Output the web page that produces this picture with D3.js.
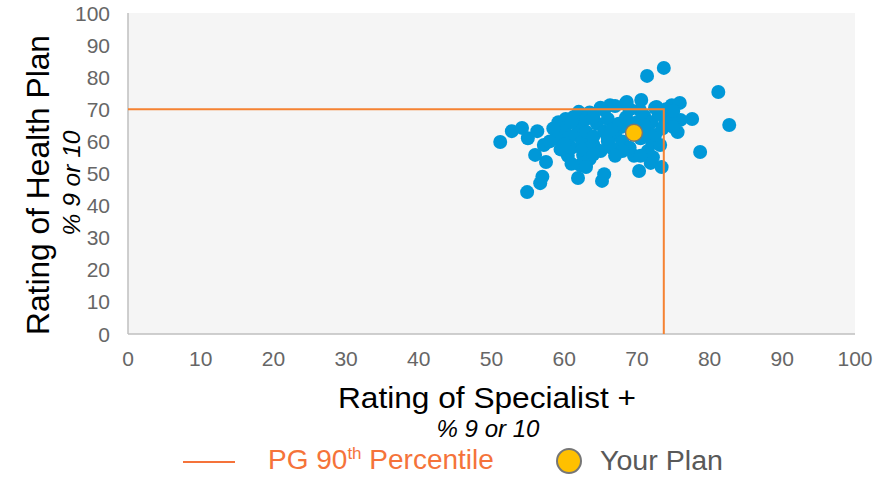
<!DOCTYPE html>
<html>
<head>
<meta charset="utf-8">
<script src="https://cdn.jsdelivr.net/npm/d3@7"></script>
<style>
  body { margin: 0; background: #fff; }
  svg text { font-family: "Liberation Sans", Arial, sans-serif; }
</style>
</head>
<body>
<svg width="887" height="479"></svg>
<script>
// peer plans: rating of specialist (x) vs rating of health plan (y)
var peerX = [51.2, 52.8, 54.2, 55.0, 56.3, 54.9, 56.7, 57.0, 57.5, 56.0, 57.2, 59.0, 59.2, 60.2, 61.3, 62.0,
  61.9, 62.2, 60.5, 62.6, 65.2, 65.5, 66.3, 65.5, 68.4, 70.4, 70.6, 71.4, 73.7, 67.8, 69.6, 70.3, 71.9, 72.2,
  73.4, 72.1, 73.2, 76.0, 75.6, 77.6, 81.2, 82.7, 78.7, 74.8, 75.9, 74.6, 73.9,
  60, 60.5, 61, 61.5, 62, 62.5, 62.5, 63, 63, 63.5, 64, 64, 64.5, 65, 65.5, 66, 66, 66.5, 67, 67.5, 68, 68.5,
  69, 69, 70, 70.5, 71, 71.5, 72, 72.5, 73, 73.5, 74, 75, 75, 61, 63, 64, 68, 67, 66, 59, 58.5, 63.5, 65, 67,
  69, 71.5, 70.5, 59.5, 58, 60, 66.5, 64, 72.5, 71, 61, 68.6, 72.7];
var peerY = [59.8, 63.2, 64.2, 61.0, 63.2, 44.2, 47.0, 49.0, 53.6, 55.8, 58.9, 62.6, 66.0, 67.0, 67.6, 69.2,
  48.6, 52.6, 55.5, 55.8, 47.7, 49.8, 71.3, 69.8, 71.7, 69.8, 72.9, 80.4, 82.9, 64.5, 55.5, 50.8, 53.3, 55.1,
  52.0, 59.5, 58.9, 66.7, 62.9, 67.0, 75.4, 65.1, 56.7, 71.3, 72.0, 68.2, 65.7,
  64, 61, 58, 62, 65, 60, 57.5, 63, 67, 54.5, 59, 61.5, 65.5, 57, 63, 60, 67, 58, 62, 65.5, 60, 67.5,
  58, 64.5, 66, 61, 68, 63, 66, 62, 68.5, 64, 70, 64.5, 69.5, 53, 52, 56, 57, 55.5, 61, 61, 64, 69, 70.5, 71,
  70, 57, 55.5, 57.5, 60, 59, 63.5, 67.5, 70.5, 65, 66, 72.3, 70.7];

var yourPlan = [69.6, 62.7];       // [specialist, health plan]
var percentile90 = [73.7, 70];     // PG 90th percentile [x, y]

var xTicks = d3.range(0, 101, 10),
    yTicks = d3.range(0, 101, 10);

var svg = d3.select('svg');

var x = d3.scaleLinear().domain([0, 100]).range([128, 855]),
    y = d3.scaleLinear().domain([0, 100]).range([334, 13]);

// plot background
svg.append('rect')
  .attr('x', x(0)).attr('y', y(100))
  .attr('width', x(100) - x(0)).attr('height', y(0) - y(100))
  .attr('fill', '#f5f5f5');

// axes lines
svg.append('line')
  .attr('x1', x(0)).attr('x2', x(0)).attr('y1', y(100)).attr('y2', y(0))
  .attr('stroke', '#bfbfbf').attr('stroke-width', 1.5);
svg.append('line')
  .attr('x1', x(0)).attr('x2', x(100)).attr('y1', y(0)).attr('y2', y(0))
  .attr('stroke', '#bfbfbf').attr('stroke-width', 1.5);

// tick labels
svg.selectAll('.xt').data(xTicks).enter().append('text')
  .attr('class', 'xt')
  .attr('x', function(d) { return x(d); })
  .attr('y', 366)
  .attr('text-anchor', 'middle')
  .attr('font-size', 21)
  .attr('fill', '#666')
  .text(function(d) { return d; });

svg.selectAll('.yt').data(yTicks).enter().append('text')
  .attr('class', 'yt')
  .attr('x', 110)
  .attr('y', function(d) { return y(d) + 7.5; })
  .attr('text-anchor', 'end')
  .attr('font-size', 21)
  .attr('fill', '#666')
  .text(function(d) { return d; });

// peer dots
var peers = peerX.map(function(d, i) { return [d, peerY[i]]; });
svg.append('g').selectAll('circle')
  .data(peers).enter().append('circle')
  .attr('cx', function(d) { return x(d[0]); })
  .attr('cy', function(d) { return y(d[1]); })
  .attr('r', 7)
  .attr('fill', '#0098d8');

// 90th percentile lines
svg.append('polyline')
  .attr('points', [[x(0), y(percentile90[1])], [x(percentile90[0]), y(percentile90[1])], [x(percentile90[0]), y(0)]].join(' '))
  .attr('fill', 'none')
  .attr('stroke', '#f58232')
  .attr('stroke-width', 2);

// your plan
svg.append('circle')
  .attr('cx', x(yourPlan[0])).attr('cy', y(yourPlan[1]))
  .attr('r', 8.5)
  .attr('fill', '#ffc000')
  .attr('stroke', '#767676')
  .attr('stroke-width', 1.5);

// axis titles
svg.append('text')
  .attr('x', 487).attr('y', 408)
  .attr('text-anchor', 'middle')
  .attr('font-size', 29)
  .attr('fill', '#000')
  .attr('textLength', 298).attr('lengthAdjust', 'spacingAndGlyphs')
  .text('Rating of Specialist +');
svg.append('text')
  .attr('x', 488).attr('y', 437)
  .attr('text-anchor', 'middle')
  .attr('font-size', 23)
  .attr('font-style', 'italic')
  .attr('fill', '#000')
  .attr('textLength', 103).attr('lengthAdjust', 'spacingAndGlyphs')
  .text('% 9 or 10');

svg.append('text')
  .attr('transform', 'translate(49,185) rotate(-90)')
  .attr('text-anchor', 'middle')
  .attr('font-size', 31)
  .attr('fill', '#000')
  .attr('textLength', 300).attr('lengthAdjust', 'spacingAndGlyphs')
  .text('Rating of Health Plan');
svg.append('text')
  .attr('transform', 'translate(80,183) rotate(-90)')
  .attr('text-anchor', 'middle')
  .attr('font-size', 23)
  .attr('font-style', 'italic')
  .attr('fill', '#000')
  .attr('textLength', 105).attr('lengthAdjust', 'spacingAndGlyphs')
  .text('% 9 or 10');

// legend
svg.append('line')
  .attr('x1', 183).attr('x2', 235).attr('y1', 462).attr('y2', 462)
  .attr('stroke', '#f5733a').attr('stroke-width', 2);
var lt = svg.append('text')
  .attr('x', 268).attr('y', 469)
  .attr('font-size', 28)
  .attr('fill', '#f5733a');
lt.append('tspan').text('PG 90');
lt.append('tspan').attr('dy', -10).attr('font-size', 17).text('th');
lt.append('tspan').attr('dy', 10).text(' Percentile');

svg.append('circle')
  .attr('cx', 569).attr('cy', 461).attr('r', 12)
  .attr('fill', '#ffc000').attr('stroke', '#767676').attr('stroke-width', 2);
svg.append('text')
  .attr('x', 600).attr('y', 470)
  .attr('font-size', 27)
  .attr('fill', '#595959')
  .attr('textLength', 123).attr('lengthAdjust', 'spacingAndGlyphs')
  .text('Your Plan');
</script>
</body>
</html>
